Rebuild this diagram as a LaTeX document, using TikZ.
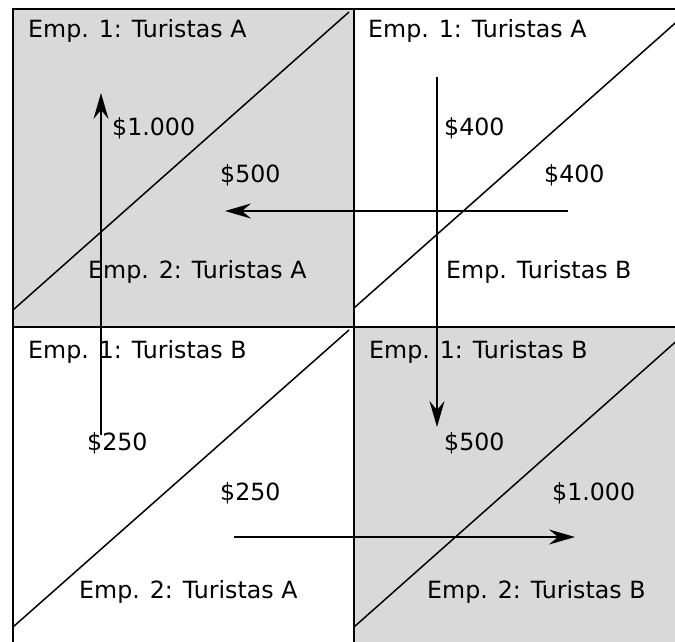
\documentclass[tikz,border=0pt]{standalone}
\usepackage{fontspec}
\setmainfont{DejaVu Sans}
\usepackage{tikz}
\usetikzlibrary{arrows.meta}
\definecolor{cellgray}{RGB}{217,217,217}

\begin{document}
\begin{tikzpicture}[x=1pt,y=-1pt,
    lbl/.style={anchor=base west, inner sep=0pt, font=\fontsize{23.7}{28}\selectfont},
    flow/.style={line width=1.6pt, -{Stealth[length=26pt,width=15pt,inset=9pt]}}]
  \useasboundingbox (0,0) rectangle (675,641);
  \clip (0,0) rectangle (675,641);
  % cells
  \fill[cellgray] (13,9) rectangle (354,327);
  \fill[cellgray] (354,327) rectangle (690,660);
  \draw[line width=2pt] (13,9) rectangle (690,660);
  \draw[line width=2pt] (354,9) -- (354,660);
  \draw[line width=2pt] (13,327) -- (690,327);
  % diagonals
  \draw[line width=1.5pt] (13,310) -- (349,12);
  \draw[line width=1.5pt] (354,308) -- (690,10);
  \draw[line width=1.5pt] (13,627) -- (349,330);
  \draw[line width=1.5pt] (354,627) -- (690,329);
  % labels
  \node[lbl] (tlA) at (28,37) {Emp. 1: Turistas A};
  \node[lbl] (tlpay1) at (112,135) {\$1.000};
  \node[lbl] (tlpay2) at (220,182) {\$500};
  \node[lbl] (tlB) at (88,278) {Emp. 2: Turistas A};
  \node[lbl] (trA) at (368,37) {Emp. 1: Turistas A};
  \node[lbl] (trpay1) at (444,135) {\$400};
  \node[lbl] (trpay2) at (544,182) {\$400};
  \node[lbl] (trB) at (446,278) {Emp. Turistas B};
  \node[lbl] (blA) at (28,358) {Emp. 1: Turistas B};
  \node[lbl] (blpay1) at (87,450) {\$250};
  \node[lbl] (blpay2) at (220,500) {\$250};
  \node[lbl] (blB) at (79,598) {Emp. 2: Turistas A};
  \node[lbl] (brA) at (369,358) {Emp. 1: Turistas B};
  \node[lbl] (brpay1) at (444,450) {\$500};
  \node[lbl] (brpay2) at (552,500) {\$1.000};
  \node[lbl] (brB) at (427,598) {Emp. 2: Turistas B};
  % moves
  \coordinate (upS) at (101,435);
  \coordinate (upE) at (101,93);
  \coordinate (leftS) at (568,211);
  \coordinate (leftE) at (225,211);
  \coordinate (downS) at (437,77);
  \coordinate (downE) at (437,427);
  \coordinate (rightS) at (234,537);
  \coordinate (rightE) at (575,537);
  \draw[flow] (upS) -- (upE);
  \draw[flow] (leftS) -- (leftE);
  \draw[flow] (downS) -- (downE);
  \draw[flow] (rightS) -- (rightE);
\end{tikzpicture}
\end{document}
